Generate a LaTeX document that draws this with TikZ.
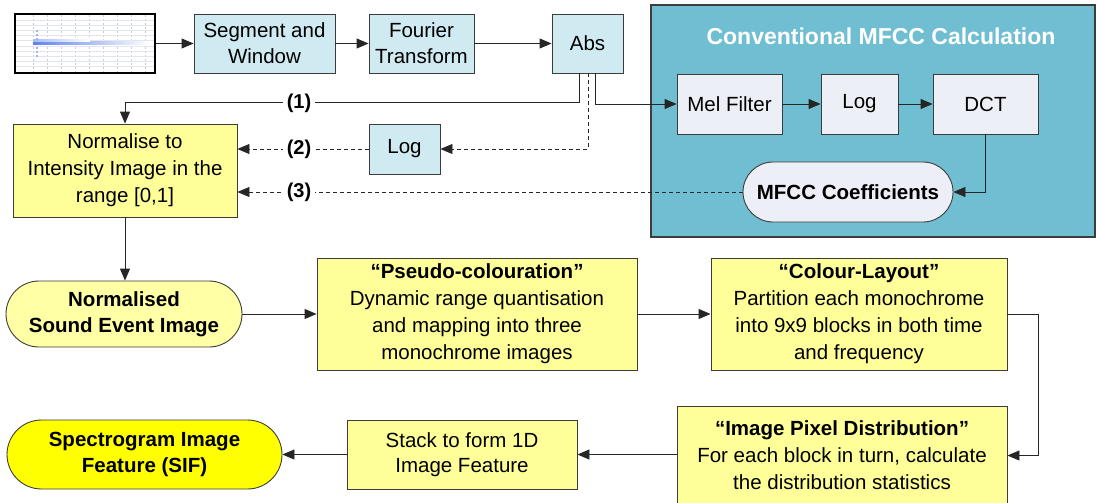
\documentclass[tikz,border=0pt]{standalone}
\usepackage{fontspec}
\setmainfont{Liberation Sans}
\usetikzlibrary{arrows.meta,shapes.misc,calc}
\definecolor{lblue}{RGB}{207,234,240}
\definecolor{ybox}{RGB}{255,255,153}
\definecolor{ystad}{RGB}{255,255,165}
\definecolor{sifyel}{RGB}{255,255,0}
\definecolor{bigblue}{RGB}{111,190,210}
\definecolor{inner}{RGB}{236,239,245}
\definecolor{edge}{RGB}{60,60,60}
\definecolor{spblue}{RGB}{40,90,230}
\definecolor{gridc}{RGB}{200,205,220}
\tikzset{
  basebox/.style={draw=edge, line width=0.9pt, align=center, inner sep=0pt,
    font=\fontsize{20.5}{26}\selectfont},
  bluebox/.style={basebox, fill=lblue},
  ylwbox/.style={basebox, fill=ybox, font=\fontsize{20.5}{27}\selectfont},
  innerbox/.style={basebox, fill=inner},
  stadium/.style={basebox, rounded rectangle, font=\fontsize{20.5}{26}\selectfont\bfseries},
  arr/.style={-{Triangle[length=12pt,width=10pt]}, line width=0.9pt, draw=black!85},
  dline/.style={dash pattern=on 4pt off 3pt},
  lbl/.style={fill=white, inner sep=4pt, font=\fontsize{20}{24}\selectfont\bfseries}
}
\begin{document}
\begin{tikzpicture}[x=1pt,y=-1pt]
\useasboundingbox (0,0) rectangle (1097,503);
% big MFCC container
\fill[bigblue, draw=edge, line width=1.4pt] (651,5) rectangle (1095,237);
\node[text=white, font=\fontsize{23}{26}\selectfont\bfseries] (title) at (881,36) {Conventional MFCC Calculation};

% spectrogram image
\node[draw=black, line width=1.8pt, fill=white, minimum width=140pt, minimum height=59pt, inner sep=0pt] (img) at (85,43.5) {};
\begin{scope}
  \clip (16,15) rectangle (154,72);
  \foreach \x in {33,47,61,75,89,103,117,131,145} \draw[gridc, dash pattern=on 2pt off 2pt, line width=0.6pt] (\x,15) -- (\x,72);
  \foreach \y in {20,25,30,35,40,46,51,56,61,66} \draw[gridc!50, line width=0.5pt] (16,\y) -- (154,\y);
  \shade[left color=spblue!75, right color=white] (33,41.5) rectangle (150,44.5);
  \shade[left color=spblue!40, right color=white] (33,39.5) rectangle (90,41.5);
  \foreach \y in {30,34,38,47,51,55} \fill[spblue!45] (36,\y) rectangle (38,\y+2);
\end{scope}

% top row
\node[bluebox, minimum width=141pt, minimum height=59pt] (seg) at (264.5,43.5) {Segment and\\Window};
\node[bluebox, minimum width=105pt, minimum height=59pt] (four) at (421.5,43.5) {Fourier\\Transform};
\node[bluebox, minimum width=71pt, minimum height=59pt] (abs) at (587.5,43.5) {Abs};

% MFCC inner
\node[innerbox, minimum width=105pt, minimum height=60pt] (mel) at (729.5,104) {Mel Filter};
\node[innerbox, minimum width=77pt, minimum height=60pt] (logb) at (859.5,104) {Log};
\node[innerbox, minimum width=105pt, minimum height=60pt] (dct) at (985.5,104) {DCT};
\node[stadium, fill=inner, minimum width=210pt, minimum height=60pt] (mfcc) at (848,192) {MFCC Coefficients};

% left middle
\node[ylwbox, minimum width=224pt, minimum height=93pt] (norm) at (125,170.5) {Normalise to\\Intensity Image in the\\range [0,1]};
\node[bluebox, minimum width=71pt, minimum height=50pt] (loga) at (404.5,149) {Log};

% lower rows
\node[stadium, fill=ystad, minimum width=236pt, minimum height=66pt] (nsei) at (124,314) {Normalised\\Sound Event Image};
\node[ylwbox, minimum width=320pt, minimum height=112pt] (pseudo) at (477,314) {\textbf{“Pseudo-colouration”}\\Dynamic range quantisation\\and mapping into three\\monochrome images};
\node[ylwbox, minimum width=296pt, minimum height=112pt] (colour) at (859,314) {\textbf{“Colour-Layout”}\\Partition each monochrome\\into 9x9 blocks in both time\\and frequency};
\node[ylwbox, minimum width=330pt, minimum height=99pt] (ipd) at (842,455.5) {\textbf{“Image Pixel Distribution”}\\For each block in turn, calculate\\the distribution statistics};
\node[ylwbox, minimum width=230pt, minimum height=69pt, font=\fontsize{20.5}{25}\selectfont] (stack) at (462,454.5) {Stack to form 1D\\Image Feature};
\node[stadium, fill=sifyel, minimum width=275pt, minimum height=69pt] (sif) at (144.5,454.5) {Spectrogram Image\\Feature (SIF)};

% connectors top row
\draw[arr] (img) -- (seg);
\draw[arr] (seg) -- (four);
\draw[arr] (four) -- (abs);
\draw[arr] ([xshift=7.5pt]abs.south) |- (mel.west);
\draw[arr] (mel) -- (logb);
\draw[arr] (logb) -- (dct);
\draw[arr] (dct.south) |- (mfcc.east);

% (1) (2) (3)
\draw[arr] ([xshift=-8.5pt]abs.south) |- ([yshift=21pt]norm.north) -- (norm.north);
\draw[arr, dline] ([xshift=0.5pt]abs.south) |- (loga.east);
\draw[arr, dline] (loga.west) -- (norm.east |- loga.west);
\draw[arr, dline] (mfcc.west) -- (norm.east |- mfcc.west);
\node[lbl] (lab1) at (299,103) {(1)};
\node[lbl] (lab2) at (299,149) {(2)};
\node[lbl] (lab3) at (299,192) {(3)};

% lower connectors
\draw[arr] (norm.south) -- (norm.south |- nsei.north);
\draw[arr] (nsei.east) -- (pseudo.west |- nsei.east);
\draw[arr] (pseudo) -- (colour);
\draw[arr] (colour.east) -- ++(31,0) |- (ipd.east);
\draw[arr] (ipd.west |- stack.east) -- (stack.east);
\draw[arr] (stack.west) -- (sif.east);
\end{tikzpicture}
\end{document}
